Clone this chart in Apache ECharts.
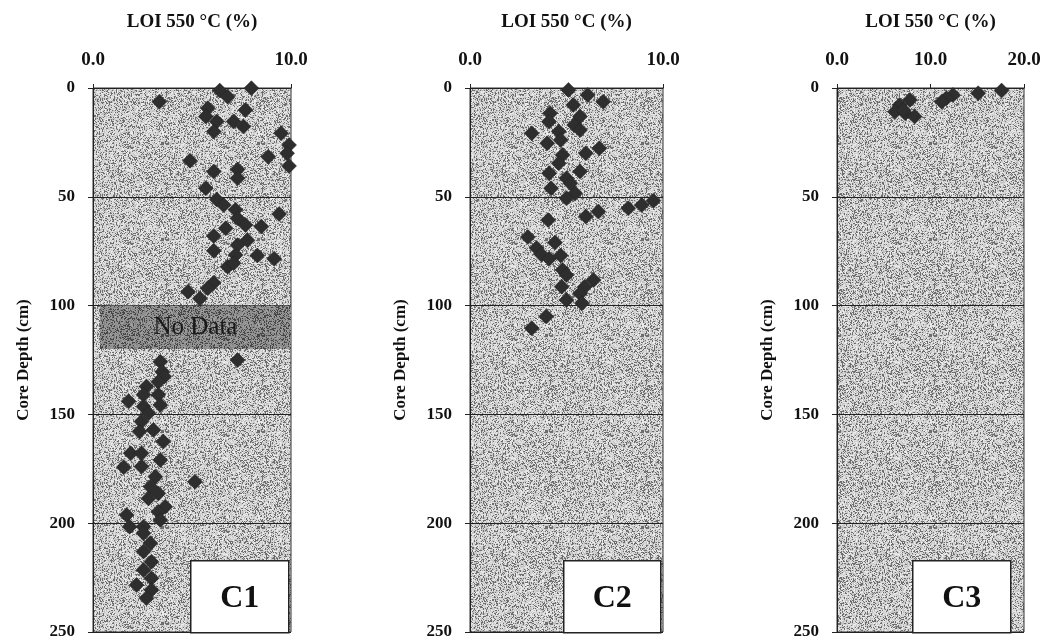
<!DOCTYPE html>
<html><head><meta charset="utf-8">
<script src="https://cdn.jsdelivr.net/npm/echarts@6/dist/echarts.min.js"></script>
<style>html,body{margin:0;padding:0;background:#fff}#c{width:1047px;height:643px}</style>
</head><body><div id="c"></div>
<script>
// LOI 550 °C (%) values [LOI, depth cm]
const coreNames = ["C1", "C2", "C3"];
const xTitle = "LOI 550 °C (%)";
const yTitle = "Core Depth (cm)";
const depthTicks = [0, 50, 100, 150, 200, 250];
const xMaxC1 = 10, xMaxC2 = 10, xMaxC3 = 20;
const noDataC1 = [0.35, 100, 10, 120]; // xFrom, depthFrom, xTo, depthTo

const c1 = [[8.0,0.1],[6.4,1.2],[6.8,4.0],[3.35,6.3],[7.7,10.1],[5.8,9.3],[5.7,13.1],[6.25,15.4],[7.1,15.4],[7.6,17.7],[6.1,20],[9.5,20.8],
[9.9,26.2],[9.8,30],[8.85,31.6],[9.9,35.8],[4.9,33.4],[6.1,38.4],[7.3,37.4],[7.3,41.5],[5.7,46.1],[6.25,51.2],[6.6,53.8],[7.2,56],[9.4,57.9],[7.3,59.9],[7.7,63],[8.5,63.7],[6.7,64.5],[6.1,68],[7.8,70],[7.3,72.2],[6.1,74.8],[8.3,77],[9.15,78.5],[7.2,76.7],
[6.8,82.1],[7.1,80.5],[6.1,89.5],[5.8,92],[4.8,93.6],[5.4,96.7],[7.3,125],[3.4,125.8],[3.5,130.4],[3.6,132.6],[2.7,137.2],
[3.3,135],[1.8,144],[2.55,141],[3.3,141],[2.55,146.4],[3.4,145.7],[2.8,149.5],[2.45,153.3],[2.35,157.9],[3.05,157.2],[3.55,162.5],[1.9,167.9],[2.45,167.9],[3.4,171],[1.55,174.3],[2.45,174],[3.15,178.6],[5.15,180.9],[2.9,183.2],[3.3,186.3],[2.8,188.6],[3.65,192.4],[3.3,194.7],[1.7,196.2],[3.4,198.5],[1.85,201.6],[2.55,201.6],
[2.55,204.6],[2.9,209.2],[2.55,213],[2.95,217.7],[2.55,221.5],[2.95,225.3],[2.2,228.4],[2.95,230.7],[2.7,234.5]];

const c2 = [[5.1,0.9],[6.1,3.2],[6.9,6.3],[5.35,7.8],[4.15,11.6],[5.7,13.1],[4.1,15.4],[5.4,17],[3.2,20.8],[4.6,20],[5.7,19.3],[4.0,25.4],[4.7,23.9],[6.7,27.7],[6.0,30],[4.8,30.8],[4.6,34.6],[4.1,39.2],[5.7,38.4],[5.0,41.5],[4.2,46.1],[5.2,43.8],[5.45,48.4],[5.0,50.7],[8.2,55.3],[8.9,53.8],[9.5,51.8],[6.0,59.1],[6.65,56.8],[4.05,60.7],[3.0,68.5],[4.4,71],[3.45,73.5],[3.7,76.5],[4.1,78.5],[4.7,77],[4.8,83.6],[5.0,85.9],[4.75,91.3],[6.4,88.2],[5.95,91.3],[5.7,94.4],[5.0,97.4],[5.8,98.9],[3.95,105],[3.2,110.4]];

const c3 = [[17.6,1.2],[15.1,2.4],[12.4,3.2],[11.7,4.7],[11.2,6.3],[7.8,5.5],[6.7,7.8],[6.2,10.9],[7.3,11.6],[8.3,13.1],[7.1,10.1]];

// stipple texture (deterministic)
function makePattern(base, spread, dark) {
  const cv = document.createElement('canvas'); cv.width = 96; cv.height = 96;
  const ctx = cv.getContext('2d'); const img = ctx.createImageData(96, 96);
  let s = 12345;
  for (let i = 0; i < 96 * 96; i++) {
    s = (s * 1103515245 + 12345) & 0x7fffffff;
    const r = (s >> 8) % 1000 / 1000;
    let v = r < dark ? base - spread : base + spread * (r - dark);
    v = Math.max(0, Math.min(255, v));
    img.data[i*4] = v; img.data[i*4+1] = v; img.data[i*4+2] = v; img.data[i*4+3] = 255;
  }
  ctx.putImageData(img, 0, 0);
  return { image: cv, repeat: 'repeat' };
}
const bgPat = makePattern(185, 75, 0.25);
const bandPat = makePattern(125, 55, 0.3);

const FONT = 'Liberation Serif';
const grids = [
  { left: 93, top: 88, width: 198, height: 544 },
  { left: 470, top: 88, width: 193, height: 544 },
  { left: 837, top: 88, width: 187, height: 544 }
];
const xMaxes = [xMaxC1, xMaxC2, xMaxC3];
const datasets = [c1, c2, c3];

const option = {
  backgroundColor: '#fff',
  animation: false,
  grid: grids.map(g => Object.assign({ show: true, backgroundColor: bgPat, borderColor: '#333', borderWidth: 1, containLabel: false, outerBoundsMode: 'none' }, g)),
  xAxis: grids.map((g, i) => ({
    gridIndex: i, type: 'value', position: 'top', min: 0, max: xMaxes[i], interval: 10,
    name: xTitle, nameLocation: 'middle', nameGap: 56,
    nameTextStyle: { fontFamily: FONT, fontWeight: 'bold', fontSize: 19, color: '#111' },
    axisLine: { show: true, lineStyle: { color: '#222', width: 1 } },
    axisTick: { show: true, length: 4, lineStyle: { color: '#222' } },
    axisLabel: { formatter: v => v.toFixed(1), fontFamily: FONT, fontWeight: 'bold', fontSize: 19, color: '#111', margin: 18 },
    splitLine: { show: false }
  })),
  yAxis: grids.map((g, i) => ({
    gridIndex: i, type: 'value', inverse: true, min: depthTicks[0], max: depthTicks[depthTicks.length-1], interval: 50,
    name: yTitle, nameLocation: 'middle', nameGap: 61, nameRotate: 90,
    nameTextStyle: { fontFamily: FONT, fontWeight: 'bold', fontSize: 17, color: '#111' },
    axisLine: { show: true, lineStyle: { color: '#222', width: 1 } },
    axisTick: { show: true, length: 5, lineStyle: { color: '#222' } },
    axisLabel: { fontFamily: FONT, fontWeight: 'bold', fontSize: 17, color: '#111', margin: 18 },
    splitLine: { show: true, lineStyle: { color: '#222', width: 1 } }
  })),
  series: datasets.map((d, i) => {
    const s = {
      type: 'scatter', xAxisIndex: i, yAxisIndex: i, data: d,
      symbol: 'diamond', symbolSize: 15,
      itemStyle: { color: '#2e2e2e', opacity: 1, borderColor: '#222', borderWidth: 0.5 }
    };
    if (i === 0) {
      s.markArea = {
        silent: true,
        itemStyle: { color: bandPat, opacity: 1 },
        label: { show: true, position: 'inside', formatter: 'No Data', fontFamily: FONT, fontSize: 25, color: '#1a1a1a' },
        data: [[{ coord: [noDataC1[0], noDataC1[1]] }, { coord: [noDataC1[2], noDataC1[3]] }]]
      };
    }
    return s;
  }),
  graphic: [
    { left: 190, top: 560, w: 98 }, { left: 563, top: 560, w: 97 }, { left: 912, top: 560, w: 98 }
  ].map((b, i) => ({
    type: 'group', left: b.left, top: b.top,
    children: [
      { type: 'rect', shape: { x: 0, y: 0, width: b.w, height: 72 }, style: { fill: '#fff', stroke: '#222', lineWidth: 1.5 } },
      { type: 'text', x: b.w / 2, y: 38, style: { text: coreNames[i], font: 'bold 32px "Liberation Serif"', fill: '#111', textAlign: 'center', textVerticalAlign: 'middle' } }
    ]
  }))
};
const chart = echarts.init(document.getElementById('c'), null, { renderer: 'canvas' });
chart.setOption(option);
</script></body></html>
